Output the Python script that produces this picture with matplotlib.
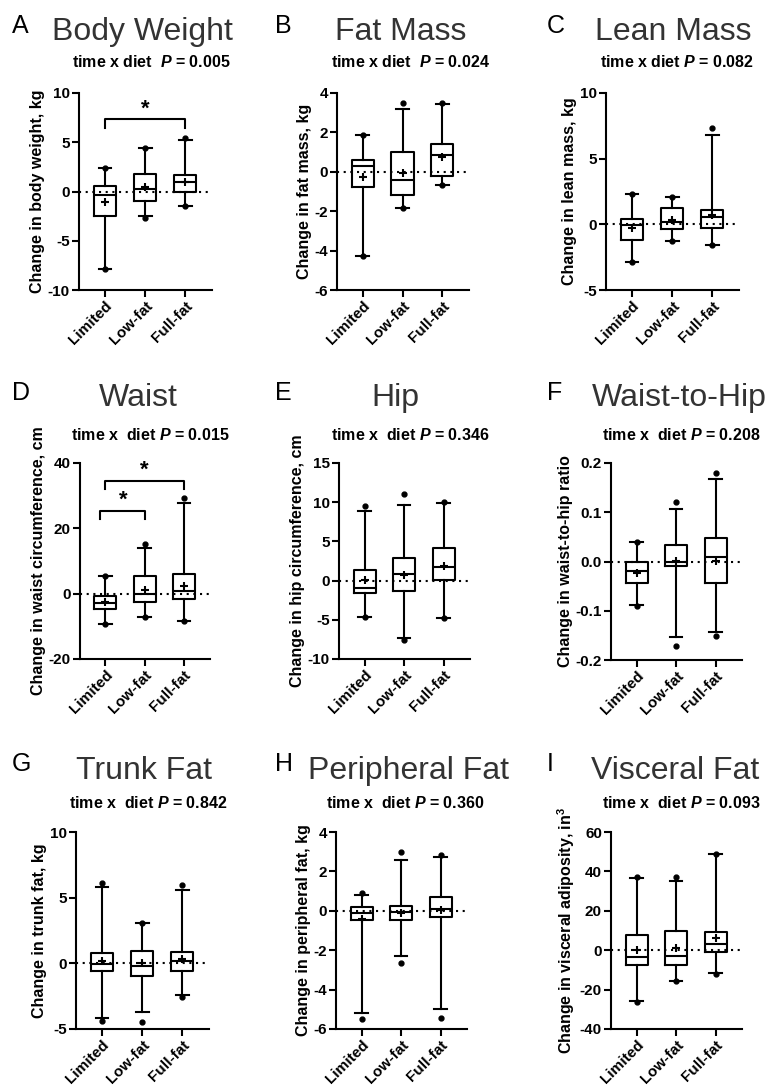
import matplotlib
matplotlib.use("Agg")
import matplotlib.pyplot as plt
import numpy as np

plt.rcParams['font.family'] = 'Liberation Sans'
plt.rcParams['mathtext.fontset'] = 'custom'
plt.rcParams['mathtext.rm'] = 'Liberation Sans:bold'
plt.rcParams['mathtext.bf'] = 'Liberation Sans:bold'
plt.rcParams['mathtext.it'] = 'Liberation Sans:italic:bold'
plt.rcParams['axes.unicode_minus'] = False

groups = ["Limited", "Low-fat", "Full-fat"]

# box = [whisker low, q1, median, q3, whisker high] per group
bw_box = [[-7.9, -2.5, -0.4, 0.6, 2.4], [-2.5, -1.0, 0.3, 1.8, 4.4], [-1.5, -0.1, 1.0, 1.7, 5.2]]
bw_mean = [-1.1, 0.5, 1.0]
bw_dots = [[-7.9, 2.4], [-2.7, 4.4], [-1.5, 5.4]]

fm_box = [[-4.25, -0.75, 0.3, 0.6, 1.85], [-1.85, -1.2, -0.4, 1.0, 3.2], [-0.65, -0.2, 0.85, 1.4, 3.45]]
fm_mean = [-0.25, -0.05, 0.75]
fm_dots = [[-4.25, 1.85], [-1.85, 3.5], [-0.65, 3.5]]

lm_box = [[-2.9, -1.2, -0.05, 0.4, 2.3], [-1.3, -0.35, 0.2, 1.25, 2.1], [-1.55, -0.25, 0.55, 1.1, 6.8]]
lm_mean = [-0.3, 0.35, 0.7]
lm_dots = [[-2.9, 2.3], [-1.3, 2.1], [-1.55, 7.3]]

wa_box = [[-9.3, -4.8, -2.8, -0.8, 5.5], [-7.1, -2.6, -0.2, 5.4, 14.1], [-8.3, -1.6, 0.9, 6.1, 27.8]]
wa_mean = [-2.6, 1.2, 2.5]
wa_dots = [[-9.3, 5.5], [-7.1, 15.2], [-8.3, 29.3]]

hp_box = [[-4.6, -1.6, -0.9, 1.4, 8.9], [-7.3, -1.3, 0.9, 2.9, 9.7], [-4.8, 0.05, 1.7, 4.2, 9.9]]
hp_mean = [0.05, 0.7, 1.9]
hp_dots = [[-4.6, 9.5], [-7.55, 11.0], [-4.8, 10.0]]

wh_box = [[-0.089, -0.044, -0.019, -0.002, 0.039], [-0.154, -0.009, 0.0, 0.033, 0.107], [-0.143, -0.044, 0.01, 0.048, 0.168]]
wh_mean = [-0.024, 0.002, 0.001]
wh_dots = [[-0.09, 0.04], [-0.171, 0.12], [-0.152, 0.18]]

tf_box = [[-4.15, -0.55, -0.05, 0.78, 5.82], [-3.67, -1.0, -0.2, 0.95, 3.1], [-2.4, -0.55, 0.2, 0.85, 5.55]]
tf_mean = [0.2, 0.05, 0.35]
tf_dots = [[-4.4, 6.1], [-4.48, 3.1], [-2.6, 5.95]]

pf_box = [[-5.17, -0.47, -0.12, 0.2, 0.82], [-2.31, -0.46, -0.08, 0.25, 2.58], [-4.98, -0.29, 0.1, 0.69, 2.75]]
pf_mean = [-0.42, -0.1, 0.05]
pf_dots = [[-5.49, 0.88], [-2.65, 2.96], [-5.44, 2.85]]

vf_box = [[-25.7, -7.3, -3.2, 7.9, 36.5], [-15.4, -7.4, -2.9, 10.0, 35.0], [-11.8, -1.0, 3.2, 9.1, 48.6]]
vf_mean = [0.0, 1.2, 6.4]
vf_dots = [[-26.4, 37.0], [-15.5, 37.2], [-12.0, 49.0]]

letters = ["A", "B", "C", "D", "E", "F", "G", "H", "I"]
titles = ["Body Weight", "Fat Mass", "Lean Mass", "Waist", "Hip", "Waist-to-Hip",
          "Trunk Fat", "Peripheral Fat", "Visceral Fat"]
pvals = ["0.005", "0.024", "0.082", "0.015", "0.346", "0.208", "0.842", "0.360", "0.093"]
sub_prefix = ["time x diet  ", "time x diet  ", "time x diet ", "time x  diet ", "time x  diet ",
              "time x  diet ", "time x  diet ", "time x  diet ", "time x  diet "]
ylabels = ["Change in body weight, kg", "Change in fat mass, kg", "Change in lean mass, kg",
           "Change in waist circumference, cm", "Change in hip circumference, cm",
           "Change in waist-to-hip ratio", "Change in trunk fat, kg",
           "Change in peripheral fat, kg", r"Change in visceral adiposity, in$^{\mathbf{3}}$"]
yranges = [(-10, 10, 5), (-6, 4, 2), (-5, 10, 5), (-20, 40, 20), (-10, 15, 5),
           (-0.2, 0.2, 0.1), (-5, 10, 5), (-6, 4, 2), (-40, 60, 20)]
boxes = [bw_box, fm_box, lm_box, wa_box, hp_box, wh_box, tf_box, pf_box, vf_box]
means = [bw_mean, fm_mean, lm_mean, wa_mean, hp_mean, wh_mean, tf_mean, pf_mean, vf_mean]
dots = [bw_dots, fm_dots, lm_dots, wa_dots, hp_dots, wh_dots, tf_dots, pf_dots, vf_dots]

# significance brackets: panel, x0, x1, bar y, tick bottom y, star x
sig_bars = [(0, 0, 2, 7.33, 6.45, 1.0), (3, 0, 2, 34.6, 31.9, 1.0), (3, -0.15, 1, 25.4, 22.9, 0.45)]

W, H = 771, 1089
# axes boxes in pixels: left, right, top, bottom
ax_px = [(79, 212, 93, 290), (337, 469, 93, 290), (606, 739, 93, 290),
         (80, 210, 463, 659), (339, 470, 463, 659), (611, 742, 463, 660),
         (76, 209, 832, 1029), (336, 467, 832, 1029), (611, 742, 832, 1029)]
title_cx = [142, 401, 673, 138, 395, 679, 144, 409, 675]
sub_cx = [151, 410, 677, 150, 410, 681, 148, 405, 681]
letter_x = [12, 275, 547]
row_title_y = [40, 406, 779]
row_sub_y = [67, 440, 808]
row_letter_y = [33, 400, 771]

fig = plt.figure(figsize=(W / 100, H / 100), dpi=100)

axes = []
for i in range(9):
    l, r, t, b = ax_px[i]
    ax = fig.add_axes([l / W, 1 - b / H, (r - l) / W, (b - t) / H])
    axes.append(ax)
    stats = []
    for bx, m, d in zip(boxes[i], means[i], dots[i]):
        stats.append(dict(whislo=bx[0], q1=bx[1], med=bx[2], q3=bx[3], whishi=bx[4],
                          mean=m, fliers=d))
    ax.axhline(0, color='black', lw=1.5, ls=(0, (1, 2.2)), zorder=1)
    ax.bxp(stats, positions=[0, 1, 2], widths=0.56, capwidths=0.32,
           showmeans=True, showfliers=True,
           boxprops=dict(color='black', lw=1.5),
           whiskerprops=dict(color='black', lw=1.5),
           capprops=dict(color='black', lw=1.5),
           medianprops=dict(color='black', lw=1.5),
           meanprops=dict(marker='+', markeredgecolor='black', markersize=5.5, markeredgewidth=1.5),
           flierprops=dict(marker='o', markerfacecolor='black', markeredgecolor='black',
                           markersize=3.5))
    ylo, yhi, step = yranges[i]
    ax.set_ylim(ylo, yhi)
    ax.set_xlim(-0.65, 2.67)
    yt = np.arange(ylo, yhi + step / 2, step)
    ax.set_yticks(yt)
    if step < 1:
        ax.set_yticklabels(["%.1f" % v if abs(v) > 1e-9 else "0.0" for v in yt])
    else:
        ax.set_yticklabels(["%d" % round(v) for v in yt])
    ax.set_xticks([0, 1, 2])
    ax.set_xticklabels(groups, rotation=45, ha='right', rotation_mode='anchor',
                       fontweight='bold', fontsize=11)
    for lab in ax.get_yticklabels():
        lab.set_fontweight('bold')
        lab.set_fontsize(11)
    ax.tick_params(direction='out', length=5, width=1.5, pad=1.5)
    ax.spines['top'].set_visible(False)
    ax.spines['right'].set_visible(False)
    ax.spines['left'].set_linewidth(1.5)
    ax.spines['bottom'].set_linewidth(1.5)
    ax.set_ylabel(ylabels[i], fontweight='bold', fontsize=11.5, labelpad=2)

    row, col = divmod(i, 3)
    fig.text(letter_x[col] / W, 1 - row_letter_y[row] / H, letters[i], fontsize=18,
             ha='left', va='baseline', color='black')
    fig.text(title_cx[i] / W, 1 - row_title_y[row] / H, titles[i], fontsize=23,
             ha='center', va='baseline', color='#333333')
    fig.text(sub_cx[i] / W, 1 - row_sub_y[row] / H, sub_prefix[i] + "$P$ = " + pvals[i],
             fontsize=11.5, fontweight='bold', ha='center', va='baseline')

for p, x0, x1, yb, yt_, sx in sig_bars:
    ax = axes[p]
    ax.plot([x0, x0, x1, x1], [yt_, yb, yb, yt_], color='black', lw=1.5, clip_on=False)
    ax.text(sx, yb, "*", ha='center', va='bottom', fontsize=16, fontweight='bold', clip_on=False)

fig.savefig("out.png", dpi=100)
